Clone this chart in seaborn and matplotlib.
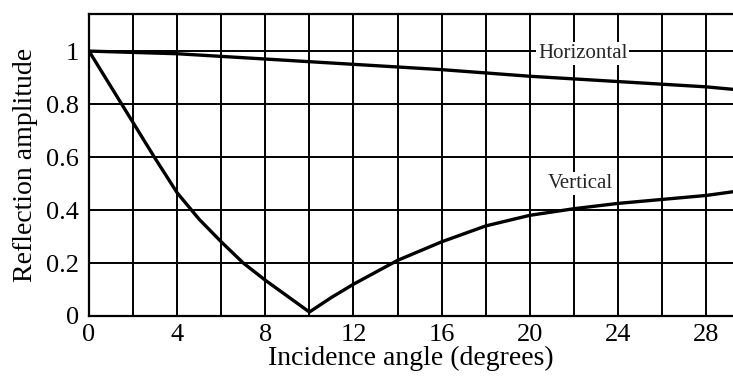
import matplotlib
matplotlib.use("Agg")
import matplotlib.pyplot as plt
import seaborn as sns
import pandas as pd

angles_h = [0, 2, 4, 6, 8, 10, 12, 16, 20, 24, 28, 29.3]
horizontal = [1.00, 0.995, 0.99, 0.98, 0.97, 0.96, 0.95, 0.93, 0.905, 0.885,
              0.865, 0.855]

angles_v = [0, 1, 2, 3, 4, 5, 6, 7, 8, 9, 10, 11, 12, 13, 14, 15, 16, 17, 18,
            20, 22, 24, 26, 28, 29.3]
vertical = [1.00, 0.865, 0.73, 0.595, 0.465, 0.365, 0.28, 0.2, 0.135, 0.075,
            0.015, 0.07, 0.12, 0.165, 0.21, 0.245, 0.28, 0.31, 0.34,
            0.38, 0.405, 0.425, 0.44, 0.455, 0.47]

x_ticks = [0, 4, 8, 12, 16, 20, 24, 28]
y_ticks = [0, 0.2, 0.4, 0.6, 0.8, 1.0]
y_tick_labels = ["0", "0.2", "0.4", "0.6", "0.8", "1"]

df_h = pd.DataFrame({"angle": angles_h, "amp": horizontal})
df_v = pd.DataFrame({"angle": angles_v, "amp": vertical})

sns.set_style("white")
plt.rcParams["font.family"] = ["Liberation Serif", "DejaVu Serif"]

fig = plt.figure(figsize=(7.33, 3.77), dpi=100)
ax = fig.add_axes([89 / 733, 1 - 316 / 377, 1 - 89 / 733, (316 - 14) / 377])

sns.lineplot(data=df_h, x="angle", y="amp", ax=ax, color="black", linewidth=2.4)
sns.lineplot(data=df_v, x="angle", y="amp", ax=ax, color="black", linewidth=2.4)

ax.set_xlim(0, 29.22)
ax.set_ylim(0, 1.14)

for gx in range(2, 30, 2):
    ax.axvline(gx, color="black", linewidth=1.4, zorder=0)
for gy in [0.2, 0.4, 0.6, 0.8, 1.0]:
    ax.axhline(gy, color="black", linewidth=1.4, zorder=0)

ax.set_xticks(x_ticks)
ax.set_yticks(y_ticks)
ax.set_yticklabels(y_tick_labels)
ax.tick_params(axis="x", length=0, labelsize=19, pad=6, colors="black")
ax.tick_params(axis="y", length=0, labelsize=19, pad=7, colors="black")

for s in ["left", "bottom", "top"]:
    ax.spines[s].set_color("black")
    ax.spines[s].set_linewidth(1.6)
ax.spines["right"].set_visible(False)

ax.set_xlabel("Incidence angle (degrees)", fontsize=20, color="black", labelpad=0)
ax.set_ylabel("Reflection amplitude", fontsize=20, color="black", labelpad=6)

ax.text(22.4, 0.99, "Horizontal", fontsize=15, ha="center", va="center",
        bbox=dict(facecolor="white", edgecolor="none", pad=1.5), zorder=3)
ax.text(22.3, 0.50, "Vertical", fontsize=15, ha="center", va="center",
        bbox=dict(facecolor="white", edgecolor="none", pad=1.5), zorder=3)

fig.savefig("out.png", dpi=100)
